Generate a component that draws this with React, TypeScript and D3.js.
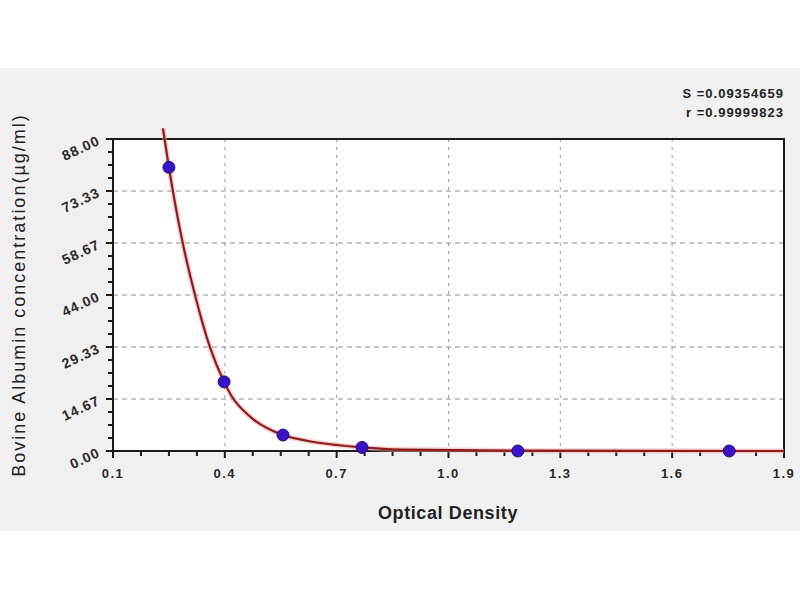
import React from 'react';
import * as d3 from 'd3';

// measured standards (optical density vs concentration)
const odValues = [0.25, 0.398, 0.556, 0.768, 1.186, 1.753];
const concValues = [80, 19.5, 4.5, 1.0, 0, 0];

// fitted curve
const curveOd = [0.234, 0.25, 0.287, 0.32, 0.36, 0.398, 0.418, 0.47, 0.556, 0.62, 0.7, 0.768, 0.87, 1.2, 1.9];
const curveConc = [91, 80, 58.7, 44, 29.3, 19.5, 15.5, 9.5, 4.5, 2.9, 1.7, 1.0, 0.4, 0.1, 0];

const xTicks = [0.1, 0.4, 0.7, 1.0, 1.3, 1.6, 1.9];
const xTickLabels = ['0.1', '0.4', '0.7', '1.0', '1.3', '1.6', '1.9'];
const yTicks = [0, 14.67, 29.33, 44, 58.67, 73.33, 88];
const yTickLabels = ['0.00', '14.67', '29.33', '44.00', '58.67', '73.33', '88.00'];

const statLines = ['S =0.09354659', 'r =0.99999823'];

const FONT = '"Liberation Sans", Arial, sans-serif';

const App: React.FC = () => {
  const W = 800;
  const H = 600;
  const left = 113, right = 784, top = 139, bottom = 451;

  const x = d3.scaleLinear().domain([0.1, 1.9]).range([left, right]);
  const y = d3.scaleLinear().domain([0, 88]).range([bottom, top]);

  const curvePts = curveOd.map((d, i) => [d, curveConc[i]] as [number, number]);
  const line = d3
    .line<[number, number]>()
    .x((d) => x(d[0]))
    .y((d) => y(d[1]))
    .curve(d3.curveMonotoneX);

  const xMinor = d3.range(0.1, 1.9 + 1e-9, 0.075);
  const yMinor = d3.range(0, 88 + 1e-9, 88 / 24);

  return (
    <svg width={W} height={H} style={{ display: 'block', position: 'absolute', left: 0, top: 0 }}>
      <rect x={0} y={0} width={W} height={H} fill="#ffffff" />
      <rect x={0} y={68} width={W} height={463} fill="#f0f0f0" />
      <rect x={left} y={top} width={right - left} height={bottom - top} fill="#ffffff" />

      {/* grid */}
      {yTicks.slice(1, -1).map((t) => (
        <line key={'gy' + t} x1={left} x2={right} y1={y(t)} y2={y(t)}
          stroke="#8c8c8c" strokeWidth={1} strokeDasharray="5,4" />
      ))}
      {xTicks.slice(1, -1).map((t) => (
        <line key={'gx' + t} x1={x(t)} x2={x(t)} y1={top} y2={bottom}
          stroke="#9a9a9a" strokeWidth={1} strokeDasharray="3,5" />
      ))}

      {/* frame */}
      <rect x={left} y={top} width={right - left} height={bottom - top}
        fill="none" stroke="#1a1a1a" strokeWidth={2} />

      {/* ticks */}
      {xMinor.map((t, i) => (
        <line key={'xm' + i} x1={x(t)} x2={x(t)} y1={bottom} y2={bottom + (i % 4 === 0 ? 7 : 5)}
          stroke="#1a1a1a" strokeWidth={2} />
      ))}
      {yMinor.map((t, i) => (
        <line key={'ym' + i} x1={left} x2={left - (i % 4 === 0 ? 7 : 5)} y1={y(t)} y2={y(t)}
          stroke="#1a1a1a" strokeWidth={2} />
      ))}

      {/* curve */}
      <path d={line(curvePts) || ''} fill="none" stroke="#f4a0a0" strokeWidth={5} strokeOpacity={0.5} />
      <path d={line(curvePts) || ''} fill="none" stroke="#8e1c1c" strokeWidth={2.2} />

      {/* points */}
      {odValues.map((d, i) => (
        <circle key={'p' + i} cx={x(d)} cy={y(concValues[i])} r={6}
          fill="#3a12c8" stroke="#221070" strokeWidth={1} />
      ))}

      {/* x tick labels */}
      {xTicks.map((t, i) => (
        <text key={'xl' + t} x={x(t)} y={478} textAnchor="middle"
          fontFamily={FONT} fontSize={13} fontWeight="bold" fill="#2a2a2a" letterSpacing={1.5}>
          {xTickLabels[i]}
        </text>
      ))}

      {/* y tick labels */}
      {yTicks.map((t, i) => (
        <text key={'yl' + t} x={101} y={y(t) + 5} textAnchor="end"
          transform={`rotate(-25, 101, ${y(t) + 5})`}
          fontFamily={FONT} fontSize={14} fontWeight="bold" fill="#2a2a2a" letterSpacing={1}>
          {yTickLabels[i]}
        </text>
      ))}

      {/* axis titles */}
      <text x={448} y={519} textAnchor="middle" fontFamily={FONT} fontSize={18}
        fontWeight="bold" fill="#222" letterSpacing={0.6}>
        Optical Density
      </text>
      <text transform={`translate(25, ${(top + bottom) / 2}) rotate(-90)`} textAnchor="middle"
        fontFamily={FONT} fontSize={18} fill="#222" letterSpacing={2}>
        Bovine Albumin concentration(µg/ml)
      </text>

      {/* stats */}
      {statLines.map((s, i) => (
        <text key={'s' + i} x={784} y={98 + i * 19} textAnchor="end"
          fontFamily={FONT} fontSize={13} fontWeight="bold" fill="#222" letterSpacing={1}>
          {s}
        </text>
      ))}
    </svg>
  );
};

export default App;
